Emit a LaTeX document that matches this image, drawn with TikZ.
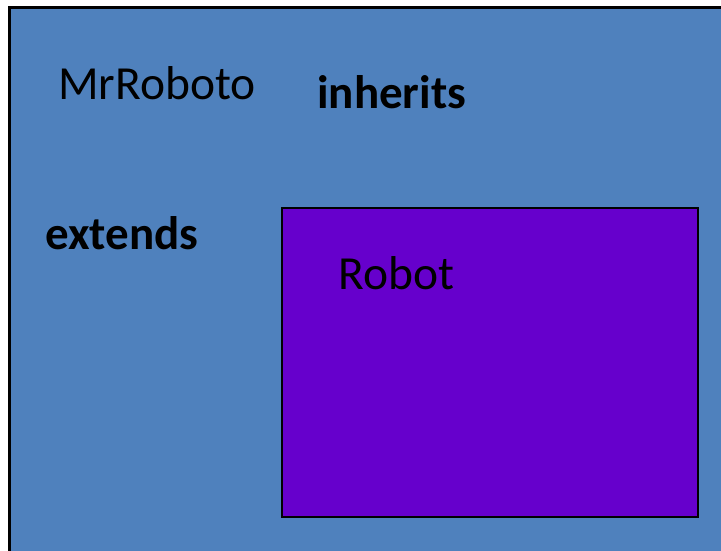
\documentclass[tikz,border=0pt]{standalone}
\usepackage{fontspec}
\setmainfont{Carlito}
\definecolor{boxblue}{HTML}{4F81BD}
\definecolor{boxpurple}{HTML}{6600CC}
\begin{document}
\begin{tikzpicture}[x=1pt,y=-1pt,
  lbl/.style={anchor=base west,inner sep=0pt,font=\fontsize{47.5}{56}\selectfont},
  blbl/.style={lbl,font=\fontsize{47}{56}\selectfont\bfseries}]
\useasboundingbox (0,0) rectangle (721,550);
\begin{scope}
\clip (0,0) rectangle (721,550);
\draw[line width=3pt,fill=boxblue] (9.5,7.5) rectangle (740,570);
\end{scope}
\draw[line width=2pt,fill=boxpurple] (282,208) rectangle (698,517);
\node[lbl] (mr) at (58,99) {MrRoboto};
\node[blbl] (inh) at (317,108) {inherits};
\node[blbl] (ext) at (45,249) {extends};
\node[lbl] (rob) at (338,289) {Robot};
\end{tikzpicture}
\end{document}
